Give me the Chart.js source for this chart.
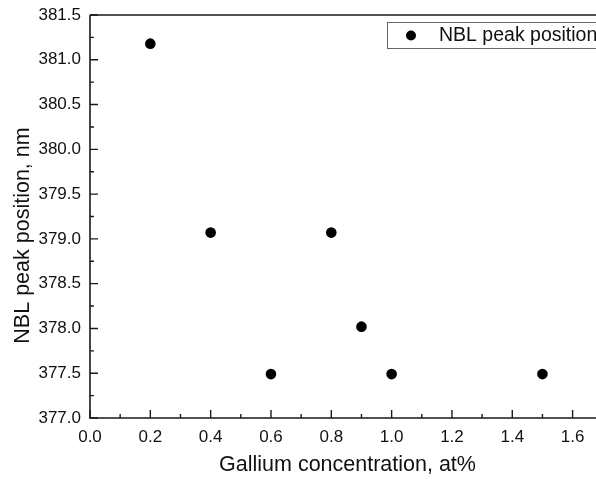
<!DOCTYPE html>
<html>
<head>
<meta charset="utf-8">
<script src="https://cdn.jsdelivr.net/npm/chart.js@4.4.0/dist/chart.umd.min.js"></script>
<style>
html,body{margin:0;padding:0;background:#fff;}
#wrap{width:596px;height:479px;position:relative;}
</style>
</head>
<body>
<div id="wrap"><canvas id="c" width="596" height="479"></canvas></div>
<script>
const gaConcentration = [0.2, 0.4, 0.6, 0.8, 0.9, 1.0, 1.5];
const nblPeak = [381.18, 379.07, 377.49, 379.07, 378.02, 377.49, 377.49];
const xTickValues = [0.0, 0.2, 0.4, 0.6, 0.8, 1.0, 1.2, 1.4, 1.6];
const yTickValues = [377.0, 377.5, 378.0, 378.5, 379.0, 379.5, 380.0, 380.5, 381.0, 381.5];
const seriesName = 'NBL peak position';
const xTitle = 'Gallium concentration, at%';
const yTitle = 'NBL peak position, nm';

const FONT = '"Liberation Sans", Arial, sans-serif';
const TXT = '#111';

const framePlugin = {
  id: 'frame',
  afterDraw(chart) {
    const ctx = chart.ctx, a = chart.chartArea;
    const xs = chart.scales.x, ys = chart.scales.y;
    ctx.save();
    ctx.strokeStyle = '#1a1a1a';
    ctx.lineWidth = 1.6;
    ctx.beginPath();
    ctx.moveTo(a.left, a.top); ctx.lineTo(600, a.top);
    ctx.moveTo(a.left, a.top); ctx.lineTo(a.left, a.bottom);
    ctx.moveTo(a.left - 1, a.bottom); ctx.lineTo(600, a.bottom);
    ctx.stroke();
    ctx.lineWidth = 1.4;
    ctx.beginPath();
    for (let i = 0; i <= 16; i++) {
      const v = i / 10;
      const px = xs.getPixelForValue(v);
      const len = (i % 2 === 0) ? 8 : 4;
      ctx.moveTo(px, a.bottom); ctx.lineTo(px, a.bottom - len);
    }
    for (let i = 0; i <= 18; i++) {
      const v = 377 + i * 0.25;
      const py = ys.getPixelForValue(v);
      const len = (i % 2 === 0) ? 8 : 4;
      ctx.moveTo(a.left, py); ctx.lineTo(a.left + len, py);
    }
    ctx.stroke();
    ctx.fillStyle = TXT;
    ctx.font = '21.5px ' + FONT;
    ctx.textAlign = 'center';
    ctx.textBaseline = 'alphabetic';
    ctx.fillText(xTitle, 347.5, 471);
    ctx.save();
    ctx.translate(29, 235.5);
    ctx.rotate(-Math.PI / 2);
    ctx.fillText(yTitle, 0, 0);
    ctx.restore();
    ctx.strokeStyle = '#666';
    ctx.lineWidth = 1;
    ctx.strokeRect(387.5, 22.5, 240, 26);
    ctx.fillStyle = '#000';
    ctx.beginPath();
    ctx.arc(411, 35.5, 5, 0, Math.PI * 2);
    ctx.fill();
    ctx.fillStyle = TXT;
    ctx.font = '19.5px ' + FONT;
    ctx.textAlign = 'left';
    ctx.textBaseline = 'middle';
    ctx.fillText(seriesName, 439, 36);
    ctx.restore();
  }
};

new Chart(document.getElementById('c'), {
  type: 'scatter',
  data: {
    datasets: [{
      label: seriesName,
      data: gaConcentration.map((x, i) => ({x: x, y: nblPeak[i]})),
      backgroundColor: '#000',
      borderColor: '#000',
      pointRadius: 5.3,
      pointHoverRadius: 5.3,
      borderWidth: 0
    }]
  },
  options: {
    responsive: false,
    animation: false,
    devicePixelRatio: 1,
    layout: {padding: {top: 15, right: 0, left: 0, bottom: 0}},
    plugins: {legend: {display: false}, tooltip: {enabled: false}},
    scales: {
      x: {
        type: 'linear',
        min: 0, max: 1.66,
        grid: {display: false, drawTicks: false},
        border: {display: false},
        afterBuildTicks: s => { s.ticks = xTickValues.map(v => ({value: v})); },
        afterFit: s => { s.height = 61; s.paddingRight = 0; },
        ticks: {
          padding: 9,
          color: TXT,
          font: {family: FONT, size: 17},
          maxRotation: 0,
          callback: v => v.toFixed(1)
        }
      },
      y: {
        type: 'linear',
        min: 377, max: 381.5,
        grid: {display: false, drawTicks: false},
        border: {display: false},
        afterBuildTicks: s => { s.ticks = yTickValues.map(v => ({value: v})); },
        afterFit: s => { s.width = 90; s.paddingTop = 0; },
        ticks: {
          padding: 9,
          color: TXT,
          font: {family: FONT, size: 17},
          callback: v => v.toFixed(1)
        }
      }
    }
  },
  plugins: [framePlugin]
});
</script>
</body>
</html>
